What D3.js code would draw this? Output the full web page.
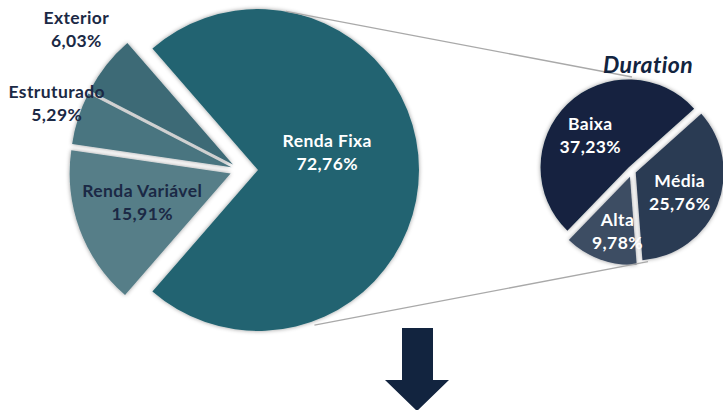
<!DOCTYPE html>
<html>
<head>
<meta charset="utf-8">
<script src="https://cdn.jsdelivr.net/npm/d3@7"></script>
<style>
  body { margin: 0; background: #fff; }
  svg { display: block; font-family: Lato, "Open Sans", sans-serif; }
</style>
</head>
<body>
<div id="vis"></div>
<script>
// data
var mainCategories = ['Renda Fixa', 'Renda Variável', 'Estruturado', 'Exterior'];
var mainValues = [72.76, 15.91, 5.29, 6.03];
var durationCategories = ['Baixa', 'Média', 'Alta'];
var durationValues = [37.23, 25.76, 9.78];
var durationTitle = 'Duration';

var width = 723;
var height = 410;

var svg = d3.select('#vis')
  .append('svg')
  .attr('width', width)
  .attr('height', height);

var defs = svg.append('defs');
var shadow = defs.append('filter')
  .attr('id', 'shadow')
  .attr('x', '-20%').attr('y', '-20%')
  .attr('width', '140%').attr('height', '140%');
shadow.append('feDropShadow')
  .attr('dx', 0).attr('dy', 0)
  .attr('stdDeviation', 2)
  .attr('flood-color', '#000')
  .attr('flood-opacity', 0.4);

var fmt = function(v) { return d3.format('.2f')(v).replace('.', ',') + '%'; };
var rad = Math.PI / 180;

// main pie
var main = { cx: 240, cy: 170, r: 161 };
var mainColors = ['#236471', '#577e88', '#4a7580', '#3d6a76'];
var mainExplode = [18, 10, 9, 9];
// label radius + angle shift from slice bisector (degrees)
var mainLabel = [
  { r: 88, shift: -7.5, fill: '#fff' },
  { r: 105, shift: -1, fill: '#1b2945' },
  { r: 193, shift: 0.5, fill: '#1b2945' },
  { r: 212, shift: 1.3, fill: '#1b2945' }
];

var mainTotal = d3.sum(mainValues);
var mainStart = (90 - mainValues[0] / mainTotal * 180) * rad;
var mainPie = d3.pie().sort(null)
  .startAngle(mainStart)
  .endAngle(mainStart + 2 * Math.PI);
var mainArcs = mainPie(mainValues);
var mainArc = d3.arc().innerRadius(0).outerRadius(main.r);

// secondary pie
var sec = { cx: 632, cy: 171, r: 88 };
var secColors = ['#12243f', '#2a3a53', '#3e4d64'];
var secExplode = [5, 4, 6];
var secLabel = [
  { r: 51, shift: -11 },
  { r: 55, shift: 8 },
  { r: 68, shift: -7.5 }
];
var secStart = 224 * rad;
var secPie = d3.pie().sort(null)
  .startAngle(secStart)
  .endAngle(secStart + 2 * Math.PI);
var secArcs = secPie(durationValues);
var secArc = d3.arc().innerRadius(0).outerRadius(sec.r);

function mid(d) { return (d.startAngle + d.endAngle) / 2; }
function polar(cx, cy, r, a) { return [cx + r * Math.sin(a), cy - r * Math.cos(a)]; }

// main slices
var mainG = svg.append('g')
  .attr('transform', 'translate(' + main.cx + ',' + main.cy + ')');
mainG.selectAll('.slice')
  .data(mainArcs)
  .enter()
  .append('path')
  .attr('class', 'slice')
  .attr('d', mainArc)
  .attr('fill', function(d, i) { return mainColors[i]; })
  .attr('filter', 'url(#shadow)')
  .attr('transform', function(d, i) {
    var p = polar(0, 0, mainExplode[i], mid(d));
    return 'translate(' + p[0] + ',' + p[1] + ')';
  });

// secondary slices
var secG = svg.append('g')
  .attr('transform', 'translate(' + sec.cx + ',' + sec.cy + ')');
secG.selectAll('.slice')
  .data(secArcs)
  .enter()
  .append('path')
  .attr('class', 'slice')
  .attr('d', secArc)
  .attr('fill', function(d, i) { return secColors[i]; })
  .attr('filter', 'url(#shadow)')
  .attr('transform', function(d, i) {
    var p = polar(0, 0, secExplode[i], mid(d));
    return 'translate(' + p[0] + ',' + p[1] + ')';
  });

// connector lines (Renda Fixa -> Duration)
var fixaC = polar(main.cx, main.cy, mainExplode[0], mid(mainArcs[0]));
var connectors = [
  [polar(fixaC[0], fixaC[1], main.r, 10 * rad), polar(sec.cx, sec.cy, sec.r + 6, 0)],
  [polar(fixaC[0], fixaC[1], main.r + 4, 160 * rad), polar(sec.cx, sec.cy, sec.r + 4, 170 * rad)]
];
svg.selectAll('.connector')
  .data(connectors)
  .enter()
  .append('line')
  .attr('class', 'connector')
  .attr('x1', function(d) { return d[0][0]; })
  .attr('y1', function(d) { return d[0][1]; })
  .attr('x2', function(d) { return d[1][0]; })
  .attr('y2', function(d) { return d[1][1]; })
  .attr('stroke', '#a9a9a9')
  .attr('stroke-width', 1.3);

// labels
function addLabel(g, x, y, name, value, fill) {
  var t = g.append('text')
    .attr('text-anchor', 'middle')
    .attr('font-weight', 'bold')
    .attr('font-size', '17.5px')
    .attr('letter-spacing', '0.4px')
    .attr('fill', fill);
  t.append('tspan').attr('x', x).attr('y', y - 11.5).text(name);
  t.append('tspan').attr('x', x).attr('y', y + 11.5).text(fmt(value));
}

mainArcs.forEach(function(d, i) {
  var p = polar(0, 0, mainLabel[i].r, mid(d) + mainLabel[i].shift * rad);
  addLabel(mainG, p[0], p[1], mainCategories[i], mainValues[i], mainLabel[i].fill);
});

secArcs.forEach(function(d, i) {
  var p = polar(0, 0, secLabel[i].r, mid(d) + secLabel[i].shift * rad);
  addLabel(secG, p[0], p[1], durationCategories[i], durationValues[i], '#fff');
});

// title of secondary pie
svg.append('text')
  .attr('x', 648)
  .attr('y', 73)
  .attr('text-anchor', 'middle')
  .attr('font-weight', 'bold')
  .attr('font-style', 'italic')
  .attr('font-size', '23px')
  .attr('letter-spacing', '0.4px')
  .attr('fill', '#12243f')
  .text(durationTitle);

// down arrow
svg.append('path')
  .attr('d', 'M402,328 L433,328 L433,380 L449,380 L417,411 L385,380 L402,380 Z')
  .attr('fill', '#12243f');
</script>
</body>
</html>
